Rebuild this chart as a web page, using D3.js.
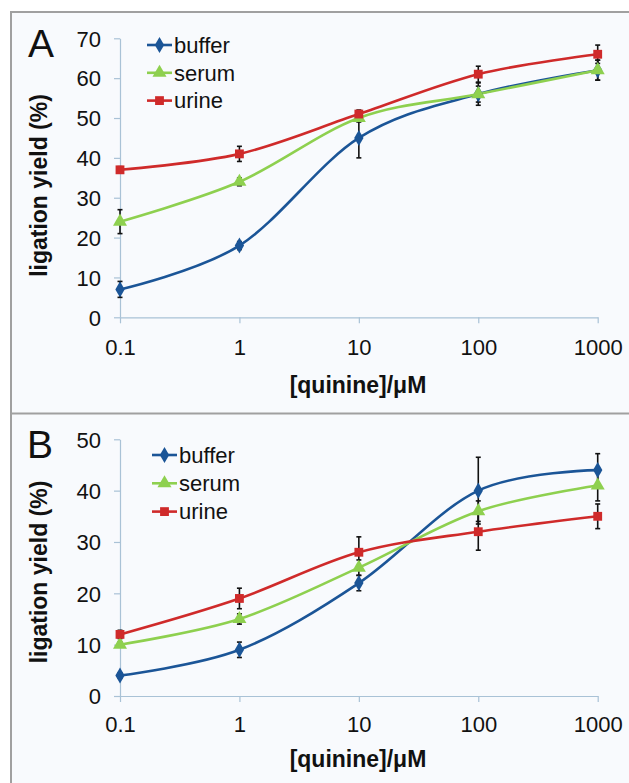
<!DOCTYPE html>
<meta charset="utf-8">
<style>

body {
  margin: 0;
  background: #fff;
}

text {
  font-family: "Liberation Sans", Arial, sans-serif;
  fill: #111;
}

.axis path,
.axis line {
  stroke: #a9c2d6;
  stroke-width: 1.2px;
}

.axis text {
  font-size: 22px;
}

.title {
  font-size: 23px;
  font-weight: bold;
}

.errbar {
  stroke: #111;
  stroke-width: 1.6px;
}

</style>
<body>
<script src="https://d3js.org/d3.v7.min.js"></script>
<script>

var w = 629,
    h = 783;

var conc = [0.1, 1, 10, 100, 1000];
var series = ["buffer", "serum", "urine"];
var colors = ["#1b5597", "#8ed04f", "#cf2a2a"];

var bufferA = [7, 18, 45, 56, 62],
    serumA = [24, 34, 50, 56, 62],
    urineA = [37, 41, 51, 61, 66];
var bufferErrA = [2, 1, 5, 2, 2.5],
    serumErrA = [3, 1, 1, 2.8, 2.5],
    urineErrA = [0.8, 1.9, 1, 2, 2.3];

var bufferB = [4, 9, 22, 40, 44],
    serumB = [10, 15, 25, 36, 41],
    urineB = [12, 19, 28, 32, 35];
var bufferErrB = [0.5, 1.5, 1.5, 6.5, 3.2],
    serumErrB = [0.5, 1, 1.5, 2, 3],
    urineErrB = [0.8, 2, 3, 3.6, 2.4];

var yTicksA = [0, 10, 20, 30, 40, 50, 60, 70],
    yTicksB = [0, 10, 20, 30, 40, 50];

var svg = d3.select("body").append("svg")
    .attr("width", w)
    .attr("height", h);

// panel backgrounds and borders
svg.append("rect")
    .attr("x", 11).attr("y", 12)
    .attr("width", w - 11).attr("height", h - 12)
    .attr("fill", "#f8fafd");

svg.append("path")
    .attr("d", "M11,783V12H629M11,413.5H629")
    .attr("fill", "none")
    .attr("stroke", "#a0a0a0")
    .attr("stroke-width", 2);

drawPanel({
  label: "A",
  top: 38.3, bottom: 317.3, ymax: 70, yTicks: yTicksA,
  values: [bufferA, serumA, urineA],
  errors: [bufferErrA, serumErrA, urineErrA],
  tickBase: 355, titleBase: 392.5, ytitleY: 185.5,
  labelX: 28, labelY: 57,
  legendX: 147, legendY: 45, legendStep: 27.8
});

drawPanel({
  label: "B",
  top: 439.3, bottom: 696, ymax: 50, yTicks: yTicksB,
  values: [bufferB, serumB, urineB],
  errors: [bufferErrB, serumErrB, urineErrB],
  tickBase: 731.7, titleBase: 766.7, ytitleY: 572,
  labelX: 27, labelY: 458,
  legendX: 152, legendY: 455, legendStep: 28.3
});

function drawPanel(p) {
  var x = d3.scaleLog().domain([0.1, 1000]).range([120, 597.7]),
      y = d3.scaleLinear().domain([0, p.ymax]).range([p.bottom, p.top]);

  var g = svg.append("g");

  var xAxis = g.append("g")
      .attr("class", "axis")
      .attr("transform", "translate(0," + p.bottom + ")")
      .call(d3.axisBottom(x).tickValues(conc).tickSize(6).tickSizeOuter(0)
        .tickFormat(function(d) { return d < 1 ? "0.1" : d3.format("d")(d); }));
  xAxis.selectAll("text").attr("dy", null).attr("y", p.tickBase - p.bottom);

  var yAxis = g.append("g")
      .attr("class", "axis")
      .attr("transform", "translate(120,0)")
      .call(d3.axisLeft(y).tickValues(p.yTicks).tickSize(6).tickSizeOuter(0));
  yAxis.selectAll("text").attr("x", -19).attr("dy", "0.35em");

  g.append("text")
      .attr("class", "title")
      .attr("x", 358)
      .attr("y", p.titleBase)
      .attr("text-anchor", "middle")
      .text("[quinine]/\u03bcM");

  g.append("text")
      .attr("class", "title")
      .attr("transform", "translate(46.5," + p.ytitleY + ")rotate(-90)")
      .attr("text-anchor", "middle")
      .text("ligation yield (%)");

  g.append("text")
      .attr("x", p.labelX)
      .attr("y", p.labelY)
      .style("font-size", "39px")
      .text(p.label);

  var line = d3.line()
      .x(function(d, i) { return x(conc[i]); })
      .y(function(d) { return y(d); })
      .curve(d3.curveCardinal.tension(0));

  series.forEach(function(name, s) {
    g.append("path")
        .datum(p.values[s])
        .attr("fill", "none")
        .attr("stroke", colors[s])
        .attr("stroke-width", 2.6)
        .attr("d", line);
  });

  // error bars on top of lines
  series.forEach(function(name, s) {
    var vals = p.values[s],
        errs = p.errors[s];
    var eb = g.append("g").selectAll("g")
        .data(vals)
      .enter().append("g")
        .attr("class", "errbar")
        .attr("transform", function(d, i) { return "translate(" + x(conc[i]) + ",0)"; });
    eb.append("line")
        .attr("y1", function(d, i) { return y(d - errs[i]); })
        .attr("y2", function(d, i) { return y(d + errs[i]); });
    eb.append("line")
        .attr("x1", -2.5).attr("x2", 2.5)
        .attr("y1", function(d, i) { return y(d - errs[i]); })
        .attr("y2", function(d, i) { return y(d - errs[i]); });
    eb.append("line")
        .attr("x1", -2.5).attr("x2", 2.5)
        .attr("y1", function(d, i) { return y(d + errs[i]); })
        .attr("y2", function(d, i) { return y(d + errs[i]); });
  });

  series.forEach(function(name, s) {
    g.append("g").selectAll("path")
        .data(p.values[s])
      .enter().append("path")
        .attr("fill", colors[s])
        .attr("transform", function(d, i) { return "translate(" + x(conc[i]) + "," + y(d) + ")"; })
        .attr("d", marker(s));
  });

  // legend
  var leg = g.append("g").selectAll("g")
      .data(series)
    .enter().append("g")
      .attr("transform", function(d, i) { return "translate(" + p.legendX + "," + (p.legendY + i * p.legendStep) + ")"; });

  leg.append("line")
      .attr("x1", 0).attr("x2", 25)
      .attr("stroke", function(d, i) { return colors[i]; })
      .attr("stroke-width", 2.6);

  leg.append("path")
      .attr("transform", "translate(12.5,0)")
      .attr("fill", function(d, i) { return colors[i]; })
      .attr("d", function(d, i) { return marker(i); });

  leg.append("text")
      .attr("x", 27)
      .attr("dy", "0.35em")
      .style("font-size", "22px")
      .text(function(d) { return d; });
}

function marker(s) {
  var type = [d3.symbolDiamond, d3.symbolTriangle, d3.symbolSquare][s],
      size = [75, 85, 78][s];
  return d3.symbol().type(type).size(size)();
}

</script>
</body>
